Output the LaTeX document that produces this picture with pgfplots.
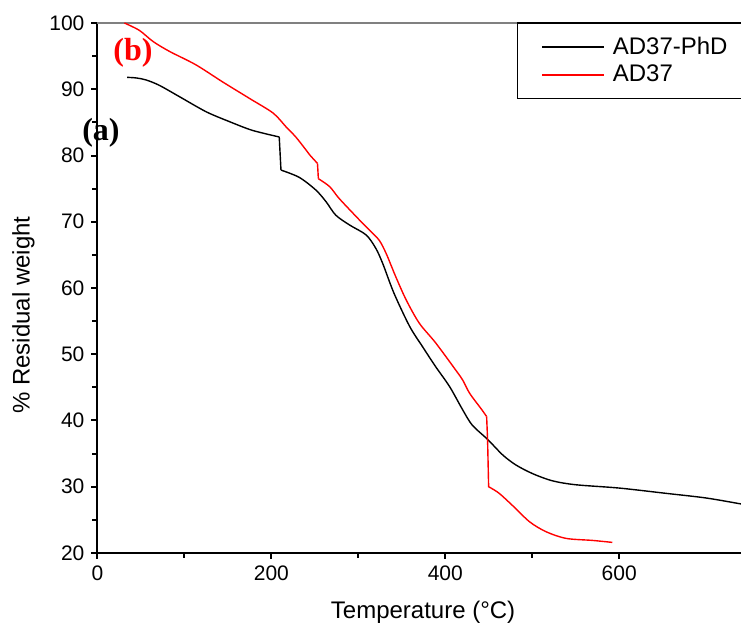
\documentclass[border=0pt]{standalone}
\usepackage{fontspec}
\setmainfont{Liberation Sans}
\newfontfamily\serifb{Liberation Serif}
\usepackage{pgfplots}
\pgfplotsset{compat=1.18}
\begin{document}
\begin{tikzpicture}
\begin{axis}[
 scale only axis, width=321.75pt, height=265pt,
 xmin=0, xmax=740, ymin=20, ymax=100,
 axis x line=bottom, axis y line=left, axis line style={line width=1pt, -},
 xtick={0,200,400,600}, ytick={20,30,...,100},
 minor x tick num=1, minor y tick num=1,
 tick align=outside, major tick length=3pt, minor tick length=2.5pt,
 every tick/.style={black, line width=1pt},
 tick label style={font=\fontsize{10.5}{12}\selectfont},
 /pgf/number format/assume math mode=true,
 xlabel={Temperature (°C)}, ylabel={\% Residual weight},
 label style={font=\fontsize{12}{14}\selectfont},
 xlabel style={at={(axis description cs:0.506,-0.111)}, anchor=center},
 ylabel style={at={(axis description cs:-0.115,0.449)}, anchor=center},
 clip=false,
 legend style={draw=none, fill=none, at={(rel axis cs:0.68,0.99)}, anchor=north west, font=\fontsize{12}{14}\selectfont, row sep=0pt, /tikz/every odd column/.append style={column sep=2pt}},
 legend cell align=left,
 legend image code/.code={\draw[#1] (0pt,0pt) -- (31pt,0pt);},
 every axis plot/.append style={line width=0.7pt},
]
\coordinate (sw) at (rel axis cs:0,0);
\draw[gray, line width=0.6pt] (rel axis cs:0,1) -- (rel axis cs:1,1);
\draw[black, line width=0.6pt] (rel axis cs:1.05,1) -- (rel axis cs:0.653,1) -- (rel axis cs:0.653,0.857) -- (rel axis cs:1.05,0.857);
% AD37-PhD
\addplot[black, smooth, tension=0.5] coordinates {
(34,91.8) (45,91.7) (56,91.4) (71,90.6) (94,88.9) (125,86.6) (152,85.1) (178,83.8) (209,82.8)
};
\addlegendentry{AD37-PhD}
% AD37
\addplot[red, smooth, tension=0.5] coordinates {
(31,100) (48,98.9) (64,97.2) (83,95.7) (113,93.7) (144,91.1) (175,88.6) (202,86.4) (217,84.3) (228,82.8) (240,80.8) (244,80.1) (253,78.8)
};
\addlegendentry{AD37}
\addplot[black, forget plot] coordinates {(209,82.8) (211,77.8)};
\addplot[black, smooth, tension=0.5, forget plot] coordinates {
(211,77.8) (232,76.7) (251,74.8) (263,73.0) (274,71.0) (290,69.5) (309,68.0) (320,66.0) (328,63.7) (341,59.2) (359,54.2) (374,51.1) (389,48.1) (405,45.1) (420,41.6) (431,39.3) (449,37.1) (466,34.8) (481,33.3) (500,32.0) (523,30.9) (550,30.3) (600,29.8) (654,29.0) (700,28.3) (740,27.4)
};
\addplot[red, forget plot] coordinates {(253,78.8) (254,76.5)};
\addplot[red, smooth, tension=0.5, forget plot] coordinates {
(254,76.5) (267,75.3) (278,73.5) (301,70.3) (313,68.7) (324,67.2) (332,65.2) (343,61.7) (355,58.2) (370,54.7) (389,51.7) (412,47.6) (420,46.1) (428,44.1) (441,41.8) (447.5,40.6)
};
\addplot[red, forget plot] coordinates {(447.5,40.6) (448.6,37.1) (449.8,30.0) (452.5,29.8)};
\addplot[red, smooth, tension=0.5, forget plot] coordinates {
(452.5,29.8) (462,29.0) (477,27.2) (497,24.7) (516,23.2) (539,22.2) (569,21.9) (592,21.6)
};
\node[font=\serifb\bfseries\fontsize{16}{18}\selectfont, text=red] at (axis cs:40.8,95.5) {(b)};
\node[font=\serifb\bfseries\fontsize{16}{18}\selectfont] at (axis cs:4,83.5) {(a)};
\end{axis}
\pgfresetboundingbox
\useasboundingbox ([xshift=-48.75pt,yshift=-38.5pt]sw) rectangle ([xshift=321.75pt,yshift=276.5pt]sw);
\end{tikzpicture}
\end{document}
